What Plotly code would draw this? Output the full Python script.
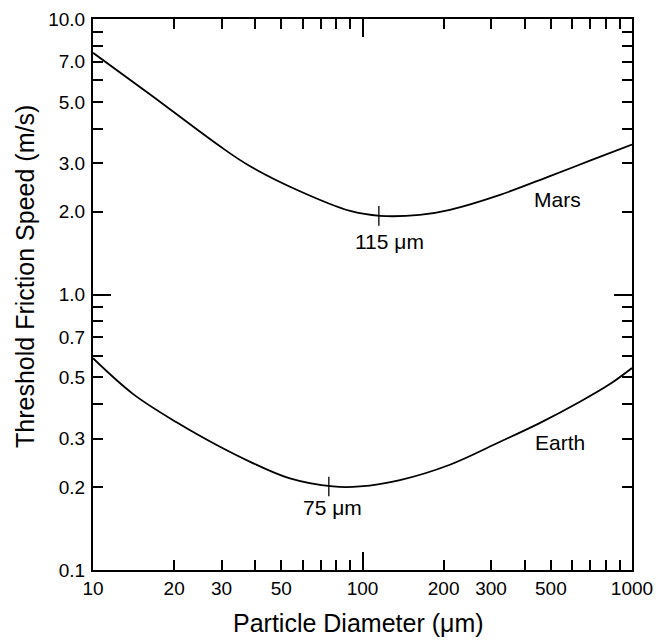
import plotly.graph_objects as go

# Particle diameter (um) and threshold friction speed (m/s)
mars_d = [10, 16.3, 29.6, 38.3, 58.6, 90, 116, 163, 211, 324, 496, 698, 1000]
mars_u = [7.54, 5.32, 3.45, 2.92, 2.37, 2.01, 1.93, 1.945, 2.03, 2.30, 2.69, 3.06, 3.50]

earth_d = [10, 14.1, 20.5, 29.6, 38.3, 53.8, 77.7, 97.9, 137.7, 211, 324, 456, 641, 828, 1000]
earth_u = [0.587, 0.435, 0.343, 0.280, 0.247, 0.215, 0.201, 0.201, 0.212, 0.241, 0.292, 0.342, 0.408, 0.473, 0.541]

minima_d = [115, 75]
minima_u = [1.93, 0.201]

y_tickvals = [0.1, 0.2, 0.3, 0.4, 0.5, 0.6, 0.7, 0.8, 0.9,
              1, 2, 3, 4, 5, 6, 7, 8, 9, 10]
y_ticktext = ["0.1", "0.2", "0.3", "", "0.5", "", "0.7", "", "",
              "1.0", "2.0", "3.0", "", "5.0", "", "7.0", "", "", "10.0"]
x_tickvals = [10, 20, 30, 40, 50, 60, 70, 80, 90,
              100, 200, 300, 400, 500, 600, 700, 800, 900, 1000]
x_ticktext = ["10", "20", "30", "", "50", "", "", "", "",
              "100", "200", "300", "", "500", "", "", "", "", "1000"]

FONT = "Liberation Sans, Arial, Helvetica, sans-serif"

fig = go.Figure()
fig.add_trace(go.Scatter(x=mars_d, y=mars_u, mode="lines", line=dict(color="black", width=1.8, shape="spline"),
                         hoverinfo="skip", showlegend=False))
fig.add_trace(go.Scatter(x=earth_d, y=earth_u, mode="lines", line=dict(color="black", width=1.8, shape="spline"),
                         hoverinfo="skip", showlegend=False))
fig.add_trace(go.Scatter(x=minima_d, y=minima_u, mode="markers",
                         marker=dict(symbol="line-ns-open", size=14, color="black",
                                     line=dict(color="black", width=1.3)),
                         hoverinfo="skip", showlegend=False))
# helper trace for overlay axes carrying the long ticks at 1.0 and 100
fig.add_trace(go.Scatter(x=[100], y=[1], xaxis="x2", yaxis="y2", mode="markers",
                         marker=dict(opacity=0), hoverinfo="skip", showlegend=False))

ann = dict(xref="paper", yref="paper", showarrow=False, xanchor="center", yanchor="middle")

fig.update_layout(
    width=670, height=640,
    margin=dict(l=85, r=46, t=11, b=78),
    paper_bgcolor="white", plot_bgcolor="white",
    font=dict(family=FONT, color="black", size=19),
    xaxis=dict(type="log", range=[1, 3], tickmode="array", tickvals=x_tickvals, ticktext=x_ticktext,
               ticks="inside", ticklen=10, tickwidth=1.5, tickcolor="black",
               showline=True, linecolor="black", linewidth=2, mirror="ticks",
               showgrid=False, zeroline=False, tickfont=dict(size=19), ticklabelstandoff=0,
               ticklabeloverflow="allow", automargin=False),
    yaxis=dict(type="log", range=[-1, 1], tickmode="array", tickvals=y_tickvals, ticktext=y_ticktext,
               ticks="inside", ticklen=10, tickwidth=1.5, tickcolor="black",
               showline=True, linecolor="black", linewidth=2, mirror="ticks",
               showgrid=False, zeroline=False, tickfont=dict(size=19), ticklabelstandoff=2,
               ticklabeloverflow="allow", automargin=False),
    xaxis2=dict(type="log", range=[1, 3], overlaying="x", anchor="y2", tickmode="array", tickvals=[100],
                ticks="inside", ticklen=18, tickwidth=1.5, tickcolor="black", mirror="ticks",
                showticklabels=False, showline=False, showgrid=False, zeroline=False, automargin=False),
    yaxis2=dict(type="log", range=[-1, 1], overlaying="y", anchor="x2", side="left", tickmode="array", tickvals=[1],
                ticks="inside", ticklen=18, tickwidth=1.5, tickcolor="black", mirror="ticks",
                showticklabels=False, showline=False, showgrid=False, zeroline=False, automargin=False),
    annotations=[
        dict(text="Mars", x=0.861, y=0.672, font=dict(size=21), **ann),
        dict(text="Earth", x=0.866, y=0.232, font=dict(size=21), **ann),
        dict(text="115 μm", x=0.551, y=0.597, font=dict(size=21), **ann),
        dict(text="75 μm", x=0.445, y=0.114, font=dict(size=21), **ann),
        dict(text="Particle Diameter (μm)", x=0.492, y=-0.096, font=dict(size=25), **ann),
        dict(text="Threshold Friction Speed (m/s)", x=-0.126, y=0.532, textangle=-90,
             font=dict(size=25), **ann),
    ],
)

fig.write_html("out.html")
